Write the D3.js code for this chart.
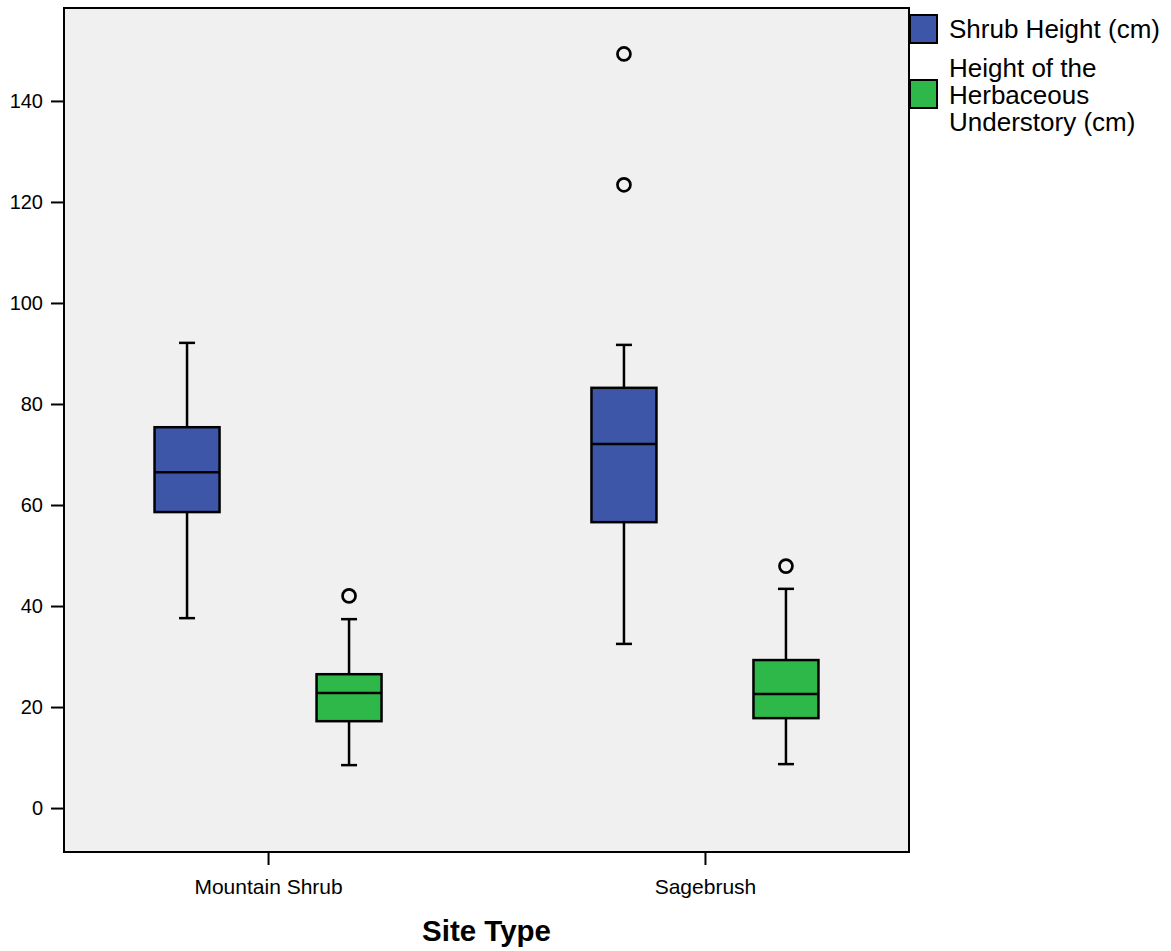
<!DOCTYPE html>
<html>
<head>
<meta charset="utf-8">
<script src="https://cdnjs.cloudflare.com/ajax/libs/d3/7.8.5/d3.min.js"></script>
<style>
  body { margin: 0; background: #fff; }
  svg { font-family: "Liberation Sans", Arial, sans-serif; }
</style>
</head>
<body>
<svg></svg>
<script>
let sites = ['Mountain Shrub', 'Sagebrush']
let seriesNames = ['Shrub Height (cm)', 'Height of the Herbaceous Understory (cm)']
let seriesColors = ['#3d56a8', '#2fb84a']
let yTicks = [0, 20, 40, 60, 80, 100, 120, 140]

// per site: [shrub, herbaceous]
let whiskerLow = [[37.6, 8.5], [32.5, 8.7]]
let q1 = [[58.6, 17.2], [56.6, 17.8]]
let median = [[66.5, 22.8], [72.1, 22.6]]
let q3 = [[75.4, 26.5], [83.2, 29.3]]
let whiskerHigh = [[92.1, 37.4], [91.7, 43.4]]
let outliers = [[[], [42.0]], [[149.3, 123.4], [47.9]]]

let width = 1171
let height = 951
let plotLeft = 64, plotRight = 909, plotTop = 8, plotBottom = 852

let svg = d3.select('svg').attr('width', width).attr('height', height)

let boxes = []
sites.forEach((site, i) => {
    seriesNames.forEach((name, j) => {
        boxes.push({
            site: site, series: j,
            lo: whiskerLow[i][j], q1: q1[i][j], med: median[i][j],
            q3: q3[i][j], hi: whiskerHigh[i][j], out: outliers[i][j]
        })
    })
})

let xScale = d3.scalePoint().domain(sites).range([plotLeft, plotRight]).padding(0.467)
let inner = d3.scaleBand().domain([0, 1]).range([-162, 162])
let yScale = d3.scaleLinear().domain([-8.7, 158.4]).range([plotBottom, plotTop])

let boxW = 65
let capW = 16
let cx = (d) => xScale(d.site) + inner(d.series) + inner.bandwidth() / 2

// plot background
svg.append('rect')
   .attr('x', plotLeft).attr('y', plotTop)
   .attr('width', plotRight - plotLeft).attr('height', plotBottom - plotTop)
   .attr('fill', '#f0f0f0')

let g = svg.append('g')

let box = g.selectAll('g.box').data(boxes).enter().append('g').attr('class', 'box')

box.append('line')
   .attr('x1', cx).attr('x2', cx)
   .attr('y1', (d) => yScale(d.hi)).attr('y2', (d) => yScale(d.lo))
   .attr('stroke', '#000').attr('stroke-width', 2.5)

box.append('line')
   .attr('x1', (d) => cx(d) - capW / 2).attr('x2', (d) => cx(d) + capW / 2)
   .attr('y1', (d) => yScale(d.hi)).attr('y2', (d) => yScale(d.hi))
   .attr('stroke', '#000').attr('stroke-width', 2.5)

box.append('line')
   .attr('x1', (d) => cx(d) - capW / 2).attr('x2', (d) => cx(d) + capW / 2)
   .attr('y1', (d) => yScale(d.lo)).attr('y2', (d) => yScale(d.lo))
   .attr('stroke', '#000').attr('stroke-width', 2.5)

box.append('rect')
   .attr('x', (d) => cx(d) - boxW / 2)
   .attr('y', (d) => yScale(d.q3))
   .attr('width', boxW)
   .attr('height', (d) => yScale(d.q1) - yScale(d.q3))
   .attr('fill', (d) => seriesColors[d.series])
   .attr('stroke', '#000').attr('stroke-width', 2.5)

box.append('line')
   .attr('x1', (d) => cx(d) - boxW / 2).attr('x2', (d) => cx(d) + boxW / 2)
   .attr('y1', (d) => yScale(d.med)).attr('y2', (d) => yScale(d.med))
   .attr('stroke', '#000').attr('stroke-width', 2.5)

box.selectAll('circle')
   .data((d) => d.out.map((v) => ({ v: v, x: cx(d) })))
   .enter().append('circle')
   .attr('cx', (o) => o.x).attr('cy', (o) => yScale(o.v))
   .attr('r', 6.5)
   .attr('fill', 'none').attr('stroke', '#000').attr('stroke-width', 2.7)

// plot frame
svg.append('rect')
   .attr('x', plotLeft).attr('y', plotTop)
   .attr('width', plotRight - plotLeft).attr('height', plotBottom - plotTop)
   .attr('fill', 'none').attr('stroke', '#000').attr('stroke-width', 2)

// axes
let yAxis = d3.axisLeft(yScale).tickValues(yTicks).tickSize(13).tickPadding(8)
let yG = svg.append('g').attr('transform', 'translate(' + plotLeft + ',0)').call(yAxis)
yG.select('.domain').remove()
yG.selectAll('line').attr('stroke', '#000').attr('stroke-width', 2)
yG.selectAll('text').attr('font-size', 20).attr('fill', '#000')
  .attr('font-family', '"Liberation Sans", Arial, sans-serif')

let xAxis = d3.axisBottom(xScale).tickSize(13).tickPadding(14)
let xG = svg.append('g').attr('transform', 'translate(0,' + plotBottom + ')').call(xAxis)
xG.select('.domain').remove()
xG.selectAll('line').attr('stroke', '#000').attr('stroke-width', 2)
xG.selectAll('text').attr('font-size', 21).attr('fill', '#000')
  .attr('font-family', '"Liberation Sans", Arial, sans-serif')

svg.append('text')
   .attr('x', (plotLeft + plotRight) / 2).attr('y', 941)
   .attr('text-anchor', 'middle')
   .attr('font-size', 29.5).attr('font-weight', 'bold')
   .text('Site Type')

// legend
let legendLines = [['Shrub Height (cm)'], ['Height of the', 'Herbaceous', 'Understory (cm)']]
let legendY = [15, 80]
let legendBase = [38, 77]
let leg = svg.selectAll('g.legend').data(seriesNames).enter().append('g').attr('class', 'legend')
leg.append('rect')
   .attr('x', 910).attr('y', (d, i) => legendY[i])
   .attr('width', 27).attr('height', 28)
   .attr('fill', (d, i) => seriesColors[i])
   .attr('stroke', '#000').attr('stroke-width', 2)
leg.each(function (d, i) {
    let t = d3.select(this).append('text')
              .attr('x', 949).attr('font-size', 26).attr('fill', '#000')
    legendLines[i].forEach((ln, k) => {
        t.append('tspan').attr('x', 949).attr('y', legendBase[i] + k * 27).text(ln)
    })
})
</script>
</body>
</html>
